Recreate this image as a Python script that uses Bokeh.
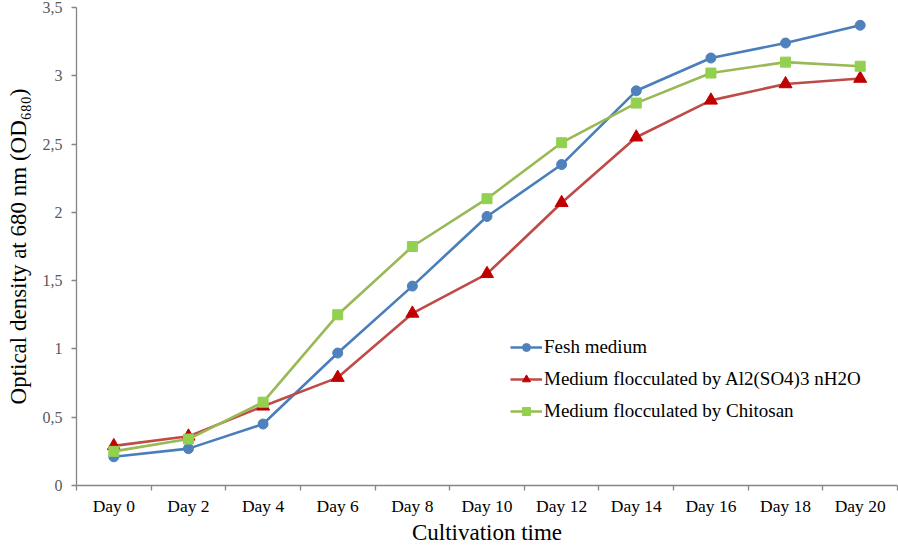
import numpy as np
from bokeh.plotting import figure
from bokeh.models import FixedTicker, Legend, LegendItem, CustomJSTickFormatter
from bokeh.embed import file_html
from bokeh.resources import INLINE

days = ["Day 0", "Day 2", "Day 4", "Day 6", "Day 8", "Day 10",
        "Day 12", "Day 14", "Day 16", "Day 18", "Day 20"]
fresh = [0.21, 0.27, 0.45, 0.97, 1.46, 1.97, 2.35, 2.89, 3.13, 3.24, 3.37]
alum = [0.29, 0.36, 0.58, 0.79, 1.26, 1.55, 2.07, 2.55, 2.82, 2.94, 2.98]
chitosan = [0.25, 0.34, 0.61, 1.25, 1.75, 2.10, 2.51, 2.80, 3.02, 3.10, 3.07]
y_ticks = [0, 0.5, 1, 1.5, 2, 2.5, 3, 3.5]
labels = ["Fesh medium", "Medium flocculated by Al2(SO4)3 nH2O",
          "Medium flocculated by Chitosan"]

x = np.arange(len(days)) + 0.5
FONT = "Liberation Serif"
AXIS = "#868686"

p = figure(width=898, height=547, x_range=(0, len(days)), y_range=(0, 3.5),
           output_backend="svg", toolbar_location=None,
           min_border_left=76, min_border_right=1, min_border_top=7,
           min_border_bottom=0)
p.outline_line_color = None
p.xgrid.visible = False
p.ygrid.visible = False

# y axis
ya = p.yaxis[0]
ya.ticker = FixedTicker(ticks=y_ticks)
ya.formatter = CustomJSTickFormatter(code="return tick.toString().replace('.', ',');")
ya.axis_line_color = AXIS
ya.axis_line_width = 1.3
ya.major_tick_line_color = AXIS
ya.major_tick_line_width = 1.3
ya.major_tick_in = 0
ya.major_tick_out = 5
ya.minor_tick_line_color = None
ya.major_label_text_font = FONT
ya.major_label_text_font_size = "16px"
ya.major_label_text_color = "#595959"
ya.major_label_standoff = 9
ya.axis_label = "Optical density at 680 nm (OD\u2086\u2088\u2080)"
ya.axis_label_text_font = FONT
ya.axis_label_text_font_size = "23px"
ya.axis_label_text_font_style = "normal"
ya.axis_label_text_color = "#000000"
ya.axis_label_standoff = 9

# x axis
xa = p.xaxis[0]
xa.ticker = FixedTicker(ticks=list(x), minor_ticks=list(range(len(days) + 1)))
xa.formatter = CustomJSTickFormatter(args=dict(labels=days),
                                     code="return labels[Math.round(tick - 0.5)];")
xa.axis_line_color = AXIS
xa.axis_line_width = 1.3
xa.major_tick_line_color = None
xa.minor_tick_line_color = AXIS
xa.minor_tick_line_width = 1.3
xa.minor_tick_in = 0
xa.minor_tick_out = 5
xa.major_label_text_font = FONT
xa.major_label_text_font_size = "17.5px"
xa.major_label_text_color = "#000000"
xa.major_label_standoff = 4
xa.axis_label = "Cultivation time"
xa.axis_label_text_font = FONT
xa.axis_label_text_font_size = "23px"
xa.axis_label_text_font_style = "normal"
xa.axis_label_text_color = "#000000"
xa.axis_label_standoff = 1

series = [
    (fresh, "#4A7EBB", "#4F81BD", "circle", 10),
    (alum, "#BE4B48", "#C00000", "triangle", 13),
    (chitosan, "#98B954", "#92D050", "square", 10),
]
items = []
for (vals, lc, mc, marker, size), lab in zip(series, labels):
    lr = p.line(x, vals, line_color=lc, line_width=2.6)
    mr = p.scatter(x, vals, marker=marker, size=size, fill_color=mc,
                   line_color=mc, line_width=1)
    items.append(LegendItem(label=lab, renderers=[lr, mr]))

legend = Legend(items=items, location=(434, 63))
legend.border_line_color = None
legend.background_fill_alpha = 0
legend.label_text_font = FONT
legend.label_text_font_size = "19px"
legend.label_text_color = "#000000"
legend.glyph_width = 32
legend.glyph_height = 20
legend.spacing = 10
legend.padding = 0
legend.margin = 0
legend.label_standoff = 2
p.add_layout(legend)

open("out.html", "w").write(file_html(p, INLINE))
